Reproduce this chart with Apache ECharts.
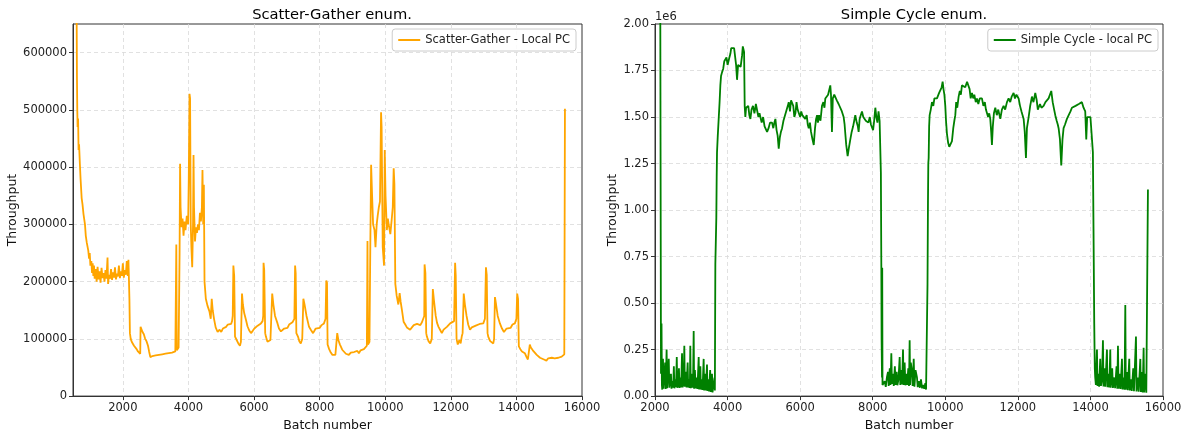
<!DOCTYPE html>
<html>
<head>
<meta charset="utf-8">
<script src="https://cdn.jsdelivr.net/npm/echarts@6/dist/echarts.min.js"></script>
<style>
  html, body { margin: 0; padding: 0; background: #fff; }
  #chart { width: 1188px; height: 437px; }
</style>
</head>
<body>
<div id="chart"></div>
<script>
// Scatter-Gather enum. - batch number / throughput
const sgBatch = [
  590, 600, 610, 620, 635, 650, 665, 690, 710, 744, 770, 800, 845, 870, 900, 946, 970, 990,
  1010, 1040, 1060, 1080, 1100, 1120, 1140, 1170, 1200, 1230, 1260, 1290, 1320, 1350, 1380, 1410,
  1440, 1470, 1500, 1533, 1550, 1580, 1610, 1640, 1670, 1700, 1730, 1760, 1790, 1820, 1850, 1880,
  1910, 1940, 1970, 2000, 2030, 2060, 2090, 2120, 2150, 2170, 2185, 2200, 2215, 2240, 2270, 2300,
  2340, 2380, 2420, 2460, 2500, 2530, 2540, 2560, 2600, 2640, 2680, 2720, 2767, 2800, 2838, 2870,
  2900, 2950, 3000, 3050, 3100, 3150, 3200, 3250, 3300, 3350, 3400, 3450, 3500, 3550, 3600, 3630,
  3645, 3700, 3730, 3745, 3760, 3790, 3820, 3850, 3880, 3910, 3950, 3990, 4010, 4033, 4050, 4070,
  4090, 4115, 4140, 4155, 4170, 4200, 4230, 4260, 4290, 4320, 4350, 4380, 4410, 4428, 4450, 4470,
  4490, 4530, 4580, 4640, 4680, 4710, 4740, 4780, 4830, 4890, 4950, 5000, 5050, 5100, 5150, 5200,
  5250, 5300, 5330, 5350, 5370, 5395, 5420, 5470, 5520, 5570, 5600, 5633, 5660, 5700, 5755, 5800,
  5850, 5907, 5960, 6010, 6060, 6110, 6160, 6210, 6260, 6280, 6290, 6310, 6340, 6362, 6410, 6462,
  6500, 6554, 6590, 6640, 6716, 6760, 6820, 6868, 6920, 6970, 7020, 7070, 7120, 7172, 7230, 7252,
  7270, 7290, 7340, 7380, 7425, 7470, 7504, 7540, 7600, 7677, 7740, 7800, 7829, 7880, 7940, 8000,
  8060, 8132, 8180, 8203, 8225, 8243, 8290, 8340, 8390, 8436, 8480, 8537, 8570, 8620, 8689, 8740,
  8800, 8850, 8892, 8950, 9000, 9050, 9100, 9150, 9196, 9250, 9300, 9350, 9398, 9440, 9459, 9475,
  9520, 9545, 9570, 9600, 9630, 9673, 9703, 9740, 9770, 9803, 9840, 9873, 9890, 9924, 9964, 9985,
  10010, 10050, 10080, 10106, 10156, 10200, 10230, 10258, 10280, 10308, 10350, 10400, 10440, 10470,
  10510, 10560, 10611, 10660, 10714, 10760, 10814, 10870, 10920, 10970, 11018, 11070, 11120, 11170,
  11190, 11200, 11225, 11250, 11270, 11320, 11372, 11420, 11452, 11490, 11540, 11580, 11625, 11680,
  11726, 11780, 11830, 11880, 11930, 11980, 12040, 12100, 12131, 12150, 12175, 12212, 12260, 12300,
  12333, 12360, 12394, 12430, 12480, 12530, 12585, 12640, 12700, 12760, 12820, 12880, 12940, 12990,
  13040, 13071, 13095, 13120, 13141, 13200, 13250, 13295, 13320, 13346, 13380, 13430, 13497, 13560,
  13620, 13649, 13700, 13760, 13820, 13880, 13953, 14000, 14024, 14050, 14074, 14120, 14170, 14220,
  14257, 14310, 14350, 14378, 14409, 14440, 14500, 14560, 14620, 14662, 14720, 14780, 14840, 14915,
  14970, 15020, 15080, 15130, 15168, 15220, 15280, 15330, 15380, 15430, 15460, 15480
];
const sgThroughput = [
  680000, 560000, 502000, 470000, 485000, 430000, 440000, 405000, 380000, 346000, 335000, 318000, 300000, 280000, 268000, 254000, 240000, 250000,
  228000, 236000, 215000, 232000, 210000, 228000, 205000, 222000, 200000, 226000, 204000, 218000, 198000, 224000, 206000, 215000,
  200000, 220000, 205000, 242000, 196000, 212000, 205000, 222000, 203000, 216000, 207000, 225000, 204000, 214000, 209000, 228000,
  206000, 218000, 210000, 232000, 207000, 220000, 212000, 236000, 210000, 238000, 205000, 170000, 110000, 100000, 95000, 92000,
  88000, 86000, 82000, 78000, 75000, 74000, 121000, 118000, 112000, 108000, 100000, 96000, 88000, 78000, 68000, 66000,
  70000, 67000, 71000, 68000, 72000, 70000, 73000, 70000, 74000, 71000, 75000, 72000, 76000, 74000, 78000, 265000,
  80000, 85000, 250000, 406000, 330000, 295000, 310000, 280000, 305000, 290000, 315000, 300000, 380000, 528000, 520000, 300000,
  260000, 225000, 300000, 421000, 330000, 270000, 295000, 285000, 300000, 290000, 320000, 305000, 330000, 395000, 300000, 369000,
  200000, 170000, 158000, 148000, 135000, 170000, 150000, 135000, 120000, 112000, 116000, 112000, 118000, 120000, 121000, 125000,
  128000, 126000, 131000, 140000, 228000, 210000, 104000, 98000, 92000, 88000, 95000, 179000, 160000, 145000, 133000, 122000,
  115000, 110000, 114000, 118000, 116000, 123000, 121000, 127000, 131000, 140000, 233000, 220000, 110000, 104000, 95000, 92000,
  98000, 179000, 160000, 140000, 127000, 118000, 113000, 112000, 118000, 121000, 119000, 125000, 127000, 129000, 135000, 228000,
  215000, 110000, 104000, 96000, 92000, 100000, 170000, 160000, 140000, 121000, 115000, 110000, 112000, 118000, 121000, 119000,
  124000, 127000, 135000, 202000, 198000, 90000, 82000, 76000, 72000, 69000, 72000, 110000, 98000, 90000, 81000, 78000,
  74000, 76000, 72000, 76000, 74000, 77000, 75000, 79000, 75000, 80000, 78000, 82000, 83000, 88000, 271000, 90000,
  95000, 260000, 404000, 350000, 300000, 290000, 260000, 300000, 315000, 329000, 340000, 496000, 470000, 260000, 228000, 430000,
  350000, 290000, 310000, 300000, 283000, 310000, 330000, 398000, 370000, 196000, 175000, 160000, 180000, 165000,
  150000, 130000, 125000, 120000, 121000, 116000, 120000, 124000, 121000, 126000, 127000, 124000, 129000, 131000,
  140000, 230000, 215000, 110000, 104000, 96000, 92000, 100000, 187000, 165000, 140000, 128000, 121000, 115000,
  110000, 116000, 118000, 121000, 124000, 127000, 125000, 131000, 233000, 210000, 100000, 90000, 98000, 92000,
  104000, 110000, 179000, 160000, 140000, 125000, 116000, 120000, 118000, 123000, 121000, 126000, 124000, 127000,
  135000, 225000, 212000, 110000, 104000, 96000, 94000, 92000, 100000, 173000, 160000, 140000, 127000, 118000,
  112000, 112000, 118000, 121000, 119000, 125000, 127000, 135000, 179000, 170000, 87000, 82000, 78000, 76000,
  75000, 68000, 64000, 62000, 90000, 85000, 80000, 76000, 72000, 69000, 67000, 65000, 64000, 62000,
  66000, 64000, 67000, 65000, 66000, 68000, 67000, 70000, 69000, 72000, 73000, 502000
];

// Simple Cycle enum. - batch number / throughput
const scBatch = [
  2146, 2165, 2180, 2190, 2200, 2220, 2235, 2260, 2280, 2295, 2320, 2335, 2360, 2379, 2395, 2420,
  2440, 2455, 2480, 2500, 2520, 2535, 2560, 2580, 2600, 2615, 2640, 2660, 2675, 2700, 2720, 2745,
  2760, 2790, 2808, 2822, 2850, 2870, 2900, 2915, 2940, 2960, 2973, 2985, 3010, 3030, 3050, 3066,
  3078, 3100, 3120, 3150, 3170, 3204, 3218, 3250, 3265, 3290, 3310, 3341, 3355, 3380, 3400, 3433,
  3445, 3470, 3490, 3520, 3535, 3560, 3571, 3585, 3617, 3640, 3650, 3663, 3675, 3690, 3700, 3709,
  3730, 3755, 3780, 3801, 3820, 3847, 3880, 3910, 3939, 3970, 4000, 4031, 4050, 4077, 4100, 4123,
  4150, 4180, 4215, 4235, 4261, 4290, 4325, 4360, 4399, 4420, 4436, 4455, 4472, 4490, 4510, 4537,
  4570, 4600, 4629, 4660, 4700, 4740, 4780, 4813, 4850, 4880, 4905, 4940, 4980, 5020, 5060, 5089,
  5130, 5170, 5200, 5226, 5260, 5290, 5318, 5350, 5380, 5410, 5440, 5470, 5502, 5540, 5570, 5594,
  5630, 5660, 5686, 5720, 5750, 5778, 5810, 5840, 5870, 5900, 5930, 5962, 6000, 6030, 6060, 6100,
  6140, 6180, 6210, 6237, 6270, 6300, 6340, 6375, 6410, 6440, 6467, 6490, 6520, 6560, 6602, 6640,
  6670, 6694, 6730, 6770, 6800, 6831, 6850, 6877, 6900, 6940, 6969, 7010, 7060, 7107, 7150, 7199,
  7225, 7245, 7270, 7309, 7340, 7383, 7420, 7460, 7490, 7520, 7560, 7590, 7612, 7640, 7670, 7704,
  7740, 7780, 7810, 7842, 7880, 7920, 7950, 7980, 8010, 8040, 8072, 8100, 8130, 8160, 8190, 8209,
  8225, 8237, 8245, 8256, 8262, 8270, 8300, 8330, 8360, 8390, 8421, 8440, 8470, 8490, 8513, 8530,
  8560, 8580, 8610, 8630, 8660, 8680, 8710, 8743, 8760, 8790, 8810, 8835, 8850, 8880, 8900, 8930,
  8950, 8980, 9000, 9018, 9030, 9050, 9082, 9100, 9130, 9150, 9180, 9220, 9240, 9270, 9300, 9330,
  9360, 9390, 9420, 9450, 9470, 9495, 9510, 9523, 9532, 9542, 9555, 9569, 9600, 9633, 9670, 9700,
  9740, 9771, 9800, 9830, 9863, 9900, 9927, 9950, 9975, 10000, 10020, 10046, 10080, 10110, 10140, 10184,
  10220, 10250, 10276, 10300, 10330, 10368, 10400, 10430, 10459, 10500, 10550, 10600, 10643, 10670, 10700, 10735,
  10770, 10800, 10840, 10873, 10910, 10950, 11010, 11050, 11090, 11120, 11148, 11180, 11210, 11240, 11265, 11286,
  11310, 11340, 11378, 11420, 11460, 11516, 11560, 11607, 11650, 11700, 11745, 11790, 11830, 11883, 11920, 11960,
  12021, 12060, 12100, 12130, 12159, 12190, 12223, 12250, 12297, 12340, 12388, 12430, 12480, 12520, 12550, 12572,
  12610, 12650, 12710, 12760, 12800, 12847, 12880, 12921, 12960, 13000, 13031, 13070, 13100, 13123, 13160, 13196,
  13230, 13260, 13300, 13352, 13400, 13450, 13490, 13540, 13590, 13627, 13680, 13720, 13765, 13810, 13857, 13870,
  13885, 13910, 13949, 14000, 14041, 14068, 14085, 14105, 14120, 14132, 14150, 14180, 14195, 14220, 14240, 14270,
  14290, 14320, 14345, 14360, 14390, 14410, 14455, 14470, 14500, 14520, 14547, 14560, 14600, 14620, 14660, 14680,
  14720, 14740, 14759, 14775, 14810, 14830, 14869, 14885, 14920, 14940, 14961, 14975, 15010, 15030, 15070, 15085,
  15120, 15140, 15180, 15200, 15255, 15270, 15310, 15330, 15375, 15390, 15420, 15440, 15466, 15480, 15520, 15540,
  15557, 15585
];
const scThroughput = [
  2050000, 120000, 390000, 60000, 35000, 200000, 40000, 45000, 180000, 38000, 250000, 42000, 40000, 200000, 45000, 50000,
  120000, 40000, 80000, 45000, 160000, 42000, 90000, 48000, 210000, 45000, 60000, 150000, 44000, 100000, 46000, 230000,
  48000, 70000, 270000, 50000, 130000, 47000, 180000, 46000, 90000, 44000, 270000, 42000, 120000, 45000, 90000, 350000,
  40000, 140000, 42000, 100000, 38000, 210000, 36000, 160000, 35000, 90000, 33000, 200000, 30000, 120000, 30000, 170000,
  28000, 90000, 25000, 140000, 22000, 60000, 120000, 20000, 20000, 100000, 30000, 710000, 820000, 960000, 1180000, 1310000,
  1400000, 1490000, 1580000, 1670000, 1720000, 1740000, 1760000, 1800000, 1790000, 1820000, 1780000, 1770000, 1820000, 1840000, 1870000, 1880000,
  1860000, 1870000, 1860000, 1780000, 1700000, 1780000, 1790000, 1770000, 1830000, 1880000, 1890000, 1850000, 1560000, 1500000, 1550000, 1540000,
  1560000, 1510000, 1490000, 1540000, 1560000, 1520000, 1570000, 1560000, 1500000, 1520000, 1530000, 1470000, 1500000, 1450000, 1460000, 1420000,
  1440000, 1470000, 1480000, 1470000, 1440000, 1470000, 1490000, 1430000, 1400000, 1330000, 1390000, 1420000, 1440000, 1480000, 1500000, 1510000,
  1540000, 1560000, 1580000, 1530000, 1590000, 1600000, 1560000, 1500000, 1520000, 1580000, 1540000, 1550000, 1500000, 1530000, 1510000, 1520000,
  1490000, 1510000, 1460000, 1440000, 1470000, 1420000, 1380000, 1350000, 1440000, 1490000, 1510000, 1470000, 1510000, 1480000, 1560000, 1580000,
  1550000, 1600000, 1590000, 1620000, 1610000, 1670000, 1620000, 1420000, 1600000, 1620000, 1610000, 1590000, 1570000, 1560000, 1530000, 1500000,
  1460000, 1410000, 1350000, 1290000, 1330000, 1380000, 1420000, 1450000, 1480000, 1510000, 1470000, 1450000, 1420000, 1490000, 1510000, 1530000,
  1500000, 1510000, 1480000, 1490000, 1470000, 1500000, 1460000, 1470000, 1430000, 1480000, 1550000, 1500000, 1470000, 1530000, 1480000, 1470000,
  1200000, 710000, 300000, 100000, 690000, 60000, 55000, 80000, 50000, 100000, 130000, 55000, 150000, 60000, 230000, 65000,
  120000, 55000, 160000, 60000, 130000, 58000, 90000, 210000, 60000, 140000, 62000, 250000, 60000, 180000, 58000, 120000,
  60000, 150000, 55000, 300000, 60000, 180000, 130000, 55000, 200000, 50000, 140000, 100000, 48000, 80000, 45000, 90000,
  42000, 60000, 40000, 70000, 35000, 30000, 600000, 1050000, 1250000, 1280000, 1450000, 1510000, 1540000, 1580000, 1560000, 1600000,
  1590000, 1600000, 1590000, 1630000, 1640000, 1660000, 1690000, 1650000, 1620000, 1560000, 1480000, 1410000, 1360000, 1340000, 1350000, 1370000,
  1440000, 1480000, 1510000, 1580000, 1550000, 1610000, 1640000, 1620000, 1670000, 1680000, 1660000, 1690000, 1700000, 1650000, 1600000, 1630000,
  1600000, 1620000, 1580000, 1600000, 1570000, 1600000, 1600000, 1560000, 1580000, 1540000, 1550000, 1500000, 1520000, 1490000, 1420000, 1350000,
  1450000, 1520000, 1550000, 1510000, 1540000, 1490000, 1540000, 1560000, 1540000, 1580000, 1600000, 1580000, 1610000, 1630000, 1600000, 1620000,
  1600000, 1560000, 1530000, 1510000, 1490000, 1420000, 1280000, 1440000, 1500000, 1560000, 1610000, 1580000, 1630000, 1590000, 1540000, 1530000,
  1570000, 1550000, 1560000, 1580000, 1570000, 1600000, 1610000, 1640000, 1580000, 1540000, 1510000, 1480000, 1460000, 1440000, 1380000, 1240000,
  1380000, 1440000, 1460000, 1490000, 1500000, 1530000, 1550000, 1540000, 1560000, 1560000, 1570000, 1560000, 1580000, 1550000, 1530000, 1460000,
  1380000, 1500000, 1510000, 1500000, 1490000, 1310000, 900000, 390000, 150000, 100000, 60000, 250000, 55000, 120000, 50000, 200000,
  55000, 90000, 300000, 52000, 150000, 50000, 250000, 48000, 120000, 46000, 250000, 45000, 150000, 44000, 100000, 42000,
  160000, 40000, 270000, 40000, 120000, 38000, 200000, 36000, 100000, 35000, 490000, 35000, 130000, 32000, 200000, 30000,
  90000, 28000, 150000, 26000, 320000, 25000, 100000, 24000, 200000, 22000, 130000, 20000, 260000, 20000, 120000, 18000,
  20000, 1110000
];

const leftTicksMax = 650000;
const rightTicksMax = 2000000;

const FONT = "'DejaVu Sans', sans-serif";
const chart = echarts.init(document.getElementById("chart"), null, { renderer: "canvas" });

function zip(xs, ys) {
  return xs.map((x, i) => [x, ys[i]]);
}

const plain = v => String(v);
const tickLabel = { color: "#222", fontFamily: FONT, fontSize: 11.5, margin: 6, formatter: plain };
// hide split lines on the plot edges so the dark frame stays solid
const splitLine = { show: true, showMinLine: false, showMaxLine: false,
  lineStyle: { color: "#d9d9d9", type: [4, 3], width: 0.8 } };
const axisLine = { show: true, onZero: false, lineStyle: { color: "#333", width: 1 } };
const axisTick = { show: true, inside: false, length: 4, lineStyle: { color: "#333" } };
const nameStyle = { color: "#111", fontFamily: FONT, fontSize: 12.5 };
const legendBox = {
  top: 29, icon: "rect", itemWidth: 22, itemHeight: 2, itemGap: 8,
  padding: [5, 6], borderColor: "#ccc", borderWidth: 1, borderRadius: 3,
  backgroundColor: "rgba(255,255,255,0.85)",
  textStyle: { fontFamily: FONT, fontSize: 11.5, color: "#222" }
};

const option = {
  animation: false,
  backgroundColor: "#fff",
  textStyle: { fontFamily: FONT },
  title: [
    { text: "Scatter-Gather enum.", left: 327, top: 3, textAlign: "center",
      textStyle: { fontFamily: FONT, fontSize: 14.7, fontWeight: "normal", color: "#000" } },
    { text: "Simple Cycle enum.", left: 909, top: 3, textAlign: "center",
      textStyle: { fontFamily: FONT, fontSize: 14.7, fontWeight: "normal", color: "#000" } }
  ],
  legend: [
    Object.assign({ data: ["Scatter-Gather - Local PC"], right: 612 }, legendBox),
    Object.assign({ data: ["Simple Cycle - local PC"], right: 30 }, legendBox)
  ],
  grid: [
    { left: 73, top: 24, width: 509, height: 376, show: true, borderColor: "#333", borderWidth: 1 },
    { left: 655, top: 24, width: 508, height: 376, show: true, borderColor: "#333", borderWidth: 1 }
  ],
  xAxis: [
    { type: "value", gridIndex: 0, min: 480, max: 16000, splitNumber: 8,
      minInterval: 2000, maxInterval: 2000,
      name: "Batch number", nameLocation: "middle", nameGap: 22, nameTextStyle: nameStyle,
      axisLine, axisTick, splitLine,
      axisLabel: Object.assign({}, tickLabel, { showMinLabel: false }) },
    { type: "value", gridIndex: 1, min: 2000, max: 16000, interval: 2000,
      name: "Batch number", nameLocation: "middle", nameGap: 22, nameTextStyle: nameStyle,
      axisLine, axisTick, splitLine, axisLabel: tickLabel }
  ],
  yAxis: [
    { type: "value", gridIndex: 0, min: 0, max: leftTicksMax, interval: 100000,
      name: "Throughput", nameLocation: "middle", nameGap: 44, nameTextStyle: nameStyle,
      axisLine, axisTick, splitLine,
      axisLabel: Object.assign({}, tickLabel, { showMaxLabel: false }) },
    { type: "value", gridIndex: 1, min: 0, max: rightTicksMax, interval: 250000,
      name: "Throughput", nameLocation: "middle", nameGap: 33, nameTextStyle: nameStyle,
      axisLine, axisTick, splitLine,
      axisLabel: Object.assign({}, tickLabel, { formatter: v => (v / 1e6).toFixed(2) }) }
  ],
  graphic: [
    { type: "text", left: 655, top: 11,
      style: { text: "1e6", fill: "#222", font: "11.5px 'DejaVu Sans', sans-serif" } }
  ],
  series: [
    { name: "Scatter-Gather - Local PC", type: "line", xAxisIndex: 0, yAxisIndex: 0,
      data: zip(sgBatch, sgThroughput), symbol: "none", showSymbol: false, clip: true,
      color: "#FFA500", lineStyle: { color: "#FFA500", width: 1.8 } },
    { name: "Simple Cycle - local PC", type: "line", xAxisIndex: 1, yAxisIndex: 1,
      data: zip(scBatch, scThroughput), symbol: "none", showSymbol: false, clip: true,
      color: "#008000", lineStyle: { color: "#008000", width: 1.8 } }
  ]
};

chart.setOption(option);
</script>
</body>
</html>
